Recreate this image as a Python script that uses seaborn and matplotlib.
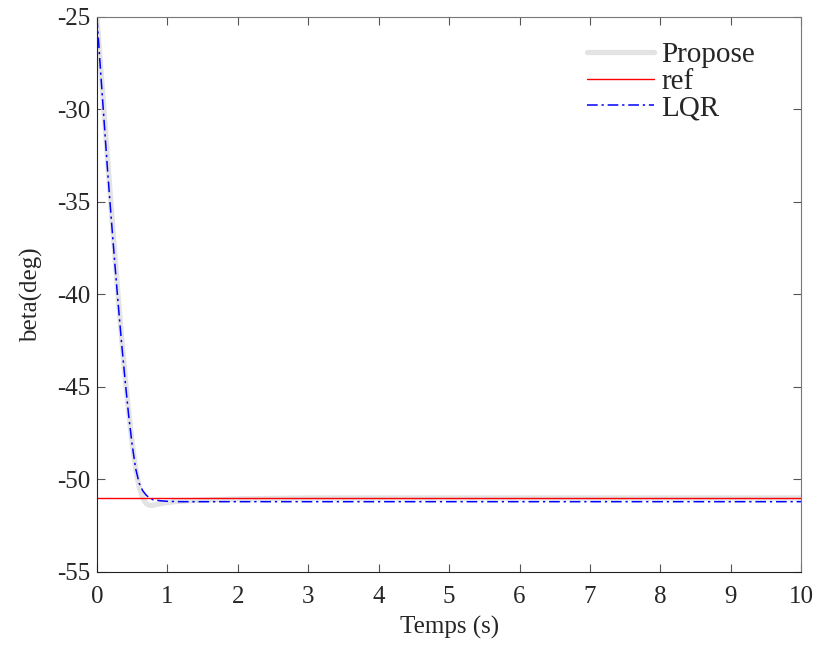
import numpy as np
import pandas as pd
import seaborn as sns
import matplotlib.pyplot as plt

# time samples (s) and responses
t_propose = [0, 0.05, 0.1, 0.15, 0.2, 0.25, 0.3, 0.35, 0.4, 0.45, 0.5, 0.55, 0.6,
             0.65, 0.7, 0.75, 0.8, 0.85, 0.9, 1.0, 1.1, 1.3, 1.6, 2.0, 3.0, 5.0, 7.5, 10]
beta_propose = [-25, -27.5, -30.0, -32.6, -35.1, -37.6, -40.0, -42.3, -44.4, -46.3,
                -48.0, -49.4, -50.4, -51.0, -51.3, -51.4, -51.4, -51.35, -51.3, -51.25,
                -51.2, -51.15, -51.1, -51.05, -51.0, -51.0, -51.0, -51.0]

t_lqr = [0, 0.05, 0.1, 0.15, 0.2, 0.25, 0.3, 0.35, 0.4, 0.45, 0.5, 0.55, 0.6,
         0.65, 0.7, 0.75, 0.8, 0.9, 1.0, 1.2, 1.5, 2.0, 4.0, 10]
beta_lqr = [-25, -27.8, -30.5, -33.2, -35.7, -38.1, -40.4, -42.6, -44.6, -46.5,
            -48.1, -49.4, -50.2, -50.6, -50.85, -51.0, -51.1, -51.15, -51.18, -51.2,
            -51.2, -51.2, -51.2, -51.2]

t_ref = [0, 10]
beta_ref = [-51, -51]

sns.set_style("ticks")
plt.rcParams["font.family"] = ["Liberation Serif", "DejaVu Serif"]
plt.rcParams["axes.unicode_minus"] = False

fig = plt.figure(figsize=(8.21, 6.5), dpi=100)
ax = fig.add_axes([0.118, 0.12, 0.858, 0.854])

sns.lineplot(x=t_propose, y=beta_propose, ax=ax, color="#e3e3e3", linewidth=3.8,
             label="Propose")
sns.lineplot(x=t_ref, y=beta_ref, ax=ax, color="red", linewidth=1.0, label="ref")
sns.lineplot(x=t_lqr, y=beta_lqr, ax=ax, color="blue", linewidth=1.1, label="LQR",
             linestyle=(0, (7, 2.5, 1.5, 2.5)))

ax.set_xlim(0, 10)
ax.set_ylim(-55, -25)
ax.set_xticks(range(0, 11))
ax.set_yticks(range(-55, -24, 5))
ax.tick_params(direction="in", top=True, right=True, labelsize=18, length=6,
               color="#555555")
ax.tick_params(axis="x", pad=10)
ax.tick_params(axis="y", pad=5)
for side in ["left", "bottom"]:
    ax.spines[side].set_color("#222222")
for side in ["top", "right"]:
    ax.spines[side].set_color("#777777")
    ax.spines[side].set_visible(True)

ax.set_xlabel("Temps (s)", fontsize=18, labelpad=6)
ax.set_ylabel("beta(deg)", fontsize=18, labelpad=10)

leg = ax.legend(loc="upper right", bbox_to_anchor=(0.951, 0.976), frameon=False,
                fontsize=21, handlelength=2.3, labelspacing=0.0,
                handletextpad=0.25, borderaxespad=0.0)

fig.savefig("out.png", dpi=100)
